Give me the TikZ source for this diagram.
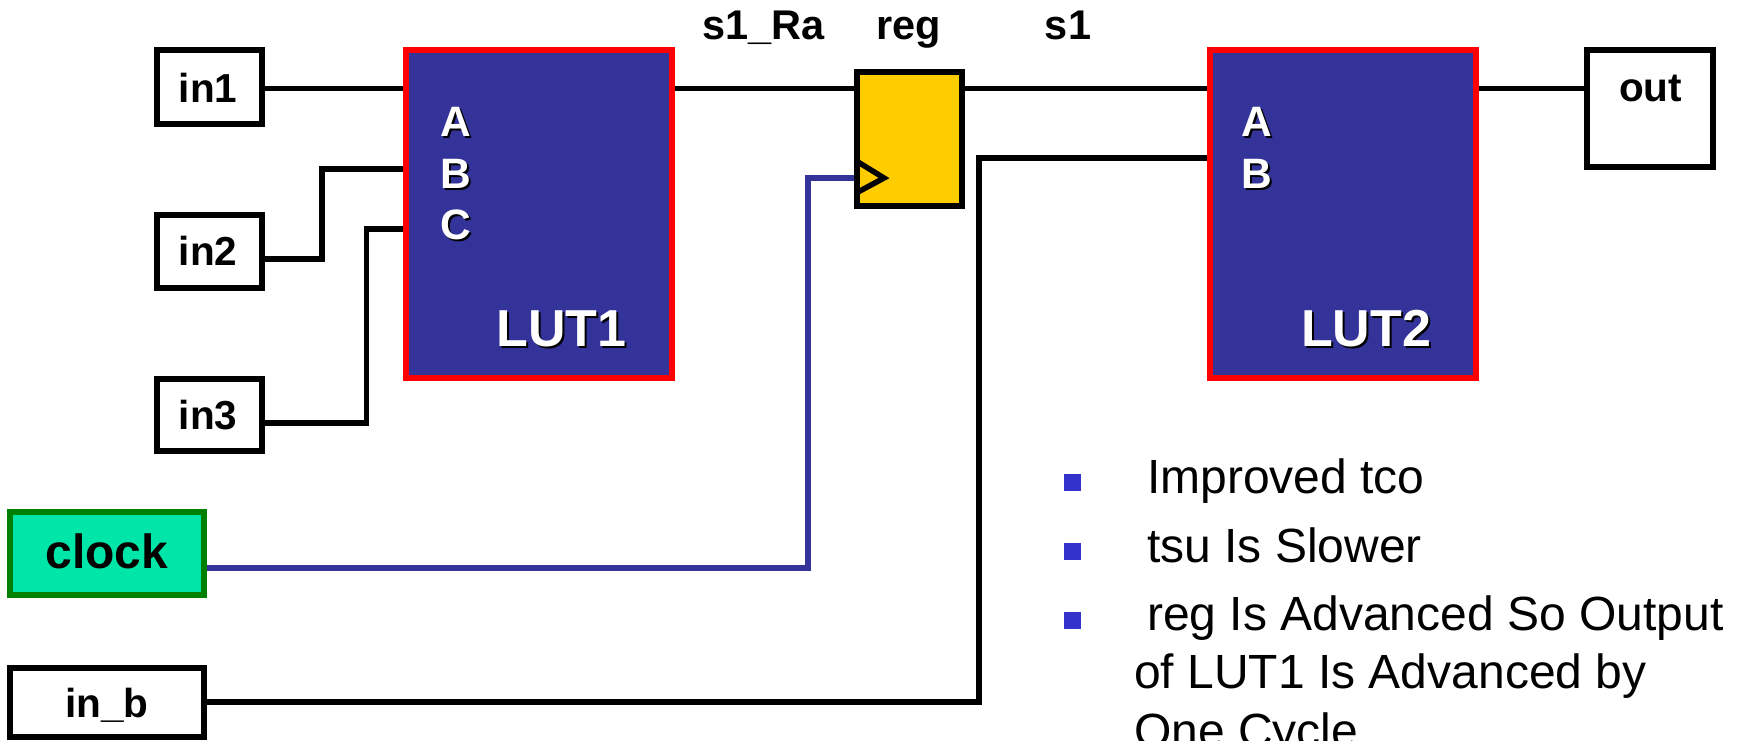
\documentclass[tikz,border=0pt]{standalone}
\usepackage{fontspec}
\setmainfont{Liberation Sans}
\definecolor{lutblue}{HTML}{333399}
\definecolor{lutred}{HTML}{FF0000}
\definecolor{regyellow}{HTML}{FFCC00}
\definecolor{clockfill}{HTML}{00E6A8}
\definecolor{clockline}{HTML}{008000}
\definecolor{bulletblue}{HTML}{3333CC}
\tikzset{
  wire/.style={draw=black,line width=5.5pt,line join=miter},
  clockwire/.style={wire,draw=lutblue},
  iobox/.style={draw=black,fill=white,line width=6pt,inner sep=0pt},
  lutbox/.style={draw=lutred,fill=lutblue,line width=6pt,inner sep=0pt,minimum width=266pt,minimum height=328pt},
  regbox/.style={draw=black,fill=regyellow,line width=6pt,inner sep=0pt,minimum width=105pt,minimum height=134pt},
  clkbox/.style={draw=clockline,fill=clockfill,line width=6pt,inner sep=0pt},
  lab/.style={anchor=base,inner sep=0pt,font=\fontsize{40.5}{40.5}\selectfont\bfseries},
  toplab/.style={lab,font=\fontsize{41.5}{41.5}\selectfont\bfseries},
  clklab/.style={lab,font=\fontsize{48}{48}\selectfont\bfseries},
  portlab/.style={lab,text=white,font=\fontsize{42.5}{42.5}\selectfont\bfseries},
  portshadow/.style={lab,text=black,font=\fontsize{42.5}{42.5}\selectfont\bfseries},
  lutlab/.style={lab,text=white,font=\fontsize{52}{52}\selectfont\bfseries},
  lutshadow/.style={lab,text=black,font=\fontsize{52}{52}\selectfont\bfseries},
  listtext/.style={anchor=base west,inner sep=0pt,font=\fontsize{48}{48}\selectfont},
  bulletmark/.style={fill=bulletblue,inner sep=0pt,minimum width=17.5pt,minimum height=17pt}
}
\begin{document}
\begin{tikzpicture}[x=1pt,y=-1pt]
\useasboundingbox (0,0) rectangle (1738,740);
% boxes
\node[iobox,minimum width=105pt,minimum height=74pt] (in1) at (209.5,87) {};
\node[iobox,minimum width=105pt,minimum height=73pt] (in2) at (209.5,251.5) {};
\node[iobox,minimum width=105pt,minimum height=72pt] (in3) at (209.5,415) {};
\node[clkbox,minimum width=194pt,minimum height=83pt] (clock) at (106.5,553.5) {};
\node[iobox,minimum width=194pt,minimum height=69pt] (inb) at (106.5,702.5) {};
\node[lutbox] (lut1) at (539,214) {};
\node[lutbox] (lut2) at (1342.5,214) {};
\node[regbox] (reg) at (909.5,139) {};
\node[iobox,minimum width=126pt,minimum height=117pt] (out) at (1650,108.5) {};
% clock triangle on the register
\coordinate (clkpin) at (reg.west |- 0,178);
\draw[line width=5.5pt,line join=miter] (858,162) -- (884,178) -- (858,192);
% corner points
\coordinate (c2a) at (322,259);
\coordinate (c2b) at (322,169);
\coordinate (c3a) at (366.5,423);
\coordinate (c3b) at (366.5,229);
\coordinate (cka) at (808,568);
\coordinate (ckb) at (808,178);
\coordinate (bba) at (979,702);
\coordinate (bbb) at (979,158);
% connectors
\draw[wire] (in1.east |- 0,88.7) -- (lut1.west |- 0,88.7);
\draw[wire] (in2.east |- c2a) -- (c2a) -- (c2b) -- (lut1.west |- c2b);
\draw[wire] (in3.east |- c3a) -- (c3a) -- (c3b) -- (lut1.west |- c3b);
\draw[wire] (lut1.east |- 0,88.7) -- (reg.west |- 0,88.7);
\draw[wire] (reg.east |- 0,88.7) -- (lut2.west |- 0,88.7);
\draw[wire] (lut2.east |- 0,88.7) -- (out.west |- 0,88.7);
\draw[clockwire] (clock.east |- cka) -- (cka) -- (ckb) -- (clkpin);
\draw[wire] (inb.east |- bba) -- (bba) -- (bbb) -- (lut2.west |- bbb);
% box labels
\node[lab] (tin1) at (208,102) {in1};
\node[lab] (tin2) at (208,265) {in2};
\node[lab] (tin3) at (208,429) {in3};
\node[lab] (tout) at (1650.5,101) {out};
\node[clklab] (tclock) at (107,568) {clock};
\node[lab] (tinb) at (107,717) {in\_b};
\node[toplab] (tra) at (763.5,39.3) {s1\_Ra};
\node[toplab] (treg) at (909,39.3) {reg};
\node[toplab] (ts1) at (1068,39.3) {s1};
% LUT1 labels
\node[portshadow] (sa1) at (457.5,138) {A};
\node[portlab] (pa1) at (455.5,136) {A};
\node[portshadow] (sb1) at (457.5,190) {B};
\node[portlab] (pb1) at (455.5,188) {B};
\node[portshadow] (sc1) at (457.5,241.5) {C};
\node[portlab] (pc1) at (455.5,239.5) {C};
\node[lutshadow] (sl1) at (563.5,348) {LUT1};
\node[lutlab] (tl1) at (561.5,346) {LUT1};
% LUT2 labels
\node[portshadow] (sa2) at (1259,138) {A};
\node[portlab] (pa2) at (1257,136) {A};
\node[portshadow] (sb2) at (1259,190) {B};
\node[portlab] (pb2) at (1257,188) {B};
\node[lutshadow] (sl2) at (1368,348) {LUT2};
\node[lutlab] (tl2) at (1366,346) {LUT2};
% list
\node[bulletmark] (b1) at (1072.5,482.5) {};
\node[bulletmark] (b2) at (1072.5,551.5) {};
\node[bulletmark] (b3) at (1072.5,620.5) {};
\node[listtext] (l1) at (1147,493) {Improved tco};
\node[listtext] (l2) at (1147,562) {tsu Is Slower};
\node[listtext] (l3) at (1147,630.5) {reg Is Advanced So Output};
\node[listtext] (l4) at (1134,688) {of LUT1 Is Advanced by};
\node[listtext] (l5) at (1134,747) {One Cycle};
\end{tikzpicture}
\end{document}
